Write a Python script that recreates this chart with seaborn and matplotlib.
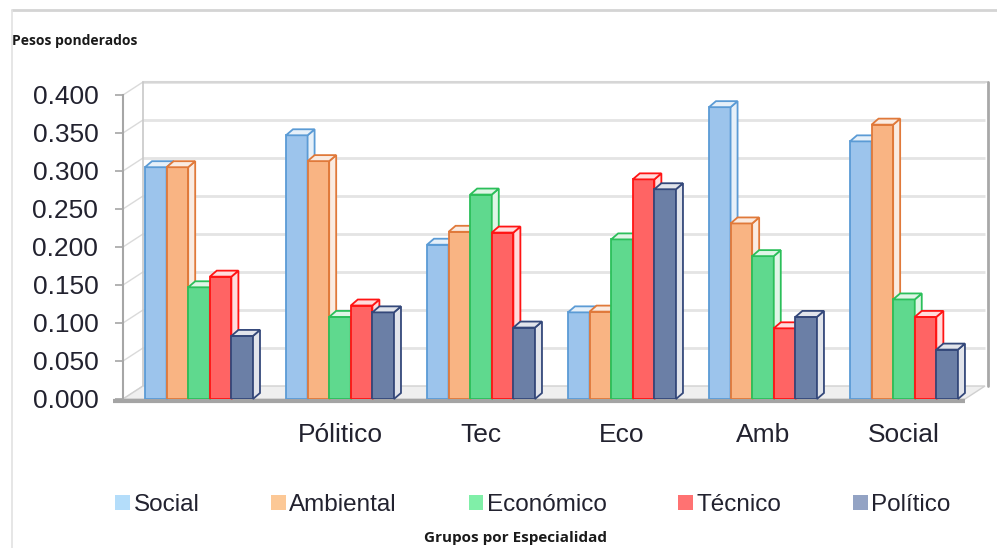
import matplotlib
matplotlib.use("Agg")
import matplotlib.pyplot as plt
import numpy as np
import pandas as pd
import seaborn as sns
from matplotlib.patches import Polygon, Patch
from matplotlib.lines import Line2D

# Weighted scores per speciality group
grupos = ["", "Pólitico", "Tec", "Eco", "Amb", "Social"]
criterios = ["Social", "Ambiental", "Económico", "Técnico", "Político"]
social = [0.305, 0.347, 0.203, 0.114, 0.384, 0.339]
ambiental = [0.305, 0.313, 0.220, 0.115, 0.231, 0.361]
economico = [0.147, 0.108, 0.269, 0.210, 0.188, 0.131]
tecnico = [0.161, 0.123, 0.219, 0.289, 0.093, 0.108]
politico = [0.083, 0.114, 0.094, 0.276, 0.108, 0.065]
yticks = [0.0, 0.05, 0.10, 0.15, 0.20, 0.25, 0.30, 0.35, 0.40]

series = [social, ambiental, economico, tecnico, politico]
df = pd.DataFrame(
    [(g, c, vals[i]) for c, vals in zip(criterios, series) for i, g in enumerate(grupos)],
    columns=["grupo", "criterio", "peso"],
)

fills = ["#9cc4ec", "#f9b483", "#5fd98e", "#ff6464", "#6b7fa6"]
edges = ["#5b9bd5", "#e0793a", "#2bbf5a", "#ff1414", "#34487a"]
legend_cols = ["#b4ddfa", "#fcc896", "#80efa8", "#ff7272", "#93a3c4"]
text_col = "#22222f"

sns.set_theme(style="white")
plt.rcParams["font.family"] = ["Liberation Sans", "DejaVu Sans"]

fig = plt.figure(figsize=(9.97, 5.48), dpi=100)
ax = fig.add_axes([123 / 997, 149 / 548, 842 / 997, 304 / 548])
ax.set_facecolor("none")

sns.barplot(data=df, x="grupo", y="peso", hue="criterio", order=grupos,
            hue_order=criterios, palette=fills, width=0.766, saturation=1,
            errorbar=None, legend=False, ax=ax)

xl0, xl1 = -0.539, 5.433
ax.set_xlim(xl0, xl1)
ax.set_ylim(0, 0.4)

W, H = ax.bbox.width, ax.bbox.height
ux = (xl1 - xl0) / W
uy = 0.4 / H

# back wall offset and bar depth (pixels)
wdx, wdy = 20 * ux, 13 * uy
bdx, bdy = 7 * ux, 6 * uy

# back wall gridlines
for v in yticks[1:]:
    ax.plot([xl0 + wdx, xl1 + wdx], [v + wdy] * 2, color="#e4e4e4", lw=2,
            zorder=1, clip_on=False, solid_capstyle="butt")
ax.plot([xl0 + wdx, xl1 + 23 * ux], [0.4 + wdy] * 2, color="#d6d6d6", lw=1.5,
        zorder=1, clip_on=False)
# side wall diagonals
for v in yticks:
    ax.plot([xl0, xl0 + wdx], [v, v + wdy], color="#dadada", lw=1, zorder=1,
            clip_on=False)
ax.plot([xl0 + wdx] * 2, [wdy, 0.4 + wdy], color="#c8c8c8", lw=1.2, zorder=1,
        clip_on=False)
ax.plot([xl1 + 23 * ux] * 2, [wdy, 0.4 + wdy], color="#a8a8a8", lw=2, zorder=1,
        clip_on=False)

# floor
floor = Polygon([(xl0, 0), (xl1, 0), (xl1 + wdx, wdy), (xl0 + wdx, wdy)],
                closed=True, facecolor="#efefef", edgecolor="#d0d0d0", lw=1,
                zorder=1.5, clip_on=False)
ax.add_patch(floor)
ax.plot([xl0 - 10 * ux, xl1], [-2 * uy] * 2, color="#a4a4a4", lw=3, zorder=2,
        clip_on=False, solid_capstyle="butt")

# bars with top and side faces
for k, cont in enumerate(ax.containers):
    light = tuple(0.85 + 0.15 * np.array(matplotlib.colors.to_rgb(edges[k])))
    for p in cont:
        p.set_facecolor(fills[k])
        p.set_edgecolor(edges[k])
        p.set_linewidth(1.3)
        p.set_zorder(3 + k)
        x0, w, h = p.get_x(), p.get_width(), p.get_height()
        top = Polygon([(x0, h), (x0 + bdx, h + bdy), (x0 + w + bdx, h + bdy), (x0 + w, h)],
                      closed=True, facecolor=light, edgecolor=edges[k], lw=1.3,
                      zorder=3.5 + k, clip_on=False)
        side = Polygon([(x0 + w, 0), (x0 + w + bdx, bdy), (x0 + w + bdx, h + bdy), (x0 + w, h)],
                       closed=True, facecolor=light, edgecolor=edges[k], lw=1.3,
                       zorder=3.5 + k, clip_on=False)
        ax.add_patch(side)
        ax.add_patch(top)

# axes styling
for s in ["top", "right", "bottom"]:
    ax.spines[s].set_visible(False)
ax.spines["left"].set_color("#a6a6a6")
ax.spines["left"].set_linewidth(1.5)
ax.spines["left"].set_zorder(2)
ax.set_yticks(yticks)
ax.set_yticklabels([f"{v:.3f}" for v in yticks])
ax.tick_params(axis="y", left=True, length=5.8, width=1.2, color="#a6a6a6",
               pad=12, labelsize=19, labelcolor=text_col)
ax.tick_params(axis="x", bottom=False, length=0, pad=17, labelsize=19,
               labelcolor=text_col)
ax.set_xlabel("")
ax.set_ylabel("")
ax.grid(False)

# legend
handles = [Patch(facecolor=c, edgecolor="none", label=l)
           for c, l in zip(legend_cols, criterios)]
fig.legend(handles=handles, loc="center", bbox_to_anchor=(533 / 997, 1 - 505 / 548),
           ncol=5, frameon=False, fontsize=17.5, handlelength=0.6,
           handleheight=0.6, handletextpad=0.15, columnspacing=2.95,
           labelcolor=text_col)

fig.text(12 / 997, 1 - 41 / 548, "Pesos ponderados", fontsize=10,
         fontweight="bold", family=["Open Sans", "DejaVu Sans"], color="#1a1a1a",
         va="center", ha="left")
fig.text(515 / 997, 1 - 538 / 548, "Grupos por Especialidad", fontsize=11,
         fontweight="bold", family=["Open Sans", "DejaVu Sans"], color="#1a1a1a",
         va="center", ha="center")

# frame lines
fig.add_artist(Line2D([12 / 997, 1], [1 - 10 / 548] * 2, transform=fig.transFigure,
                      color="#d4d4d4", lw=2))
fig.add_artist(Line2D([12 / 997] * 2, [0, 1 - 10 / 548], transform=fig.transFigure,
                      color="#e2e2e2", lw=1.2))

fig.savefig("out.png", dpi=100)
